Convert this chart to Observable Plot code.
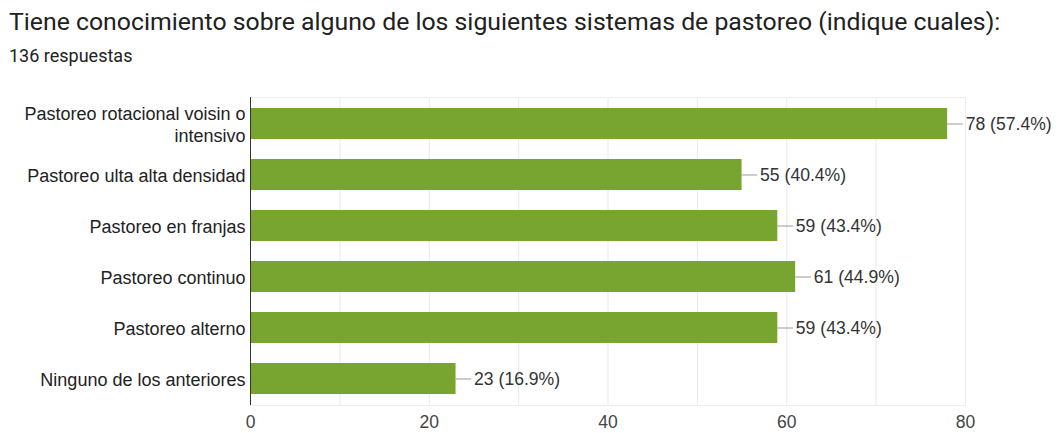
<!DOCTYPE html>
<html><head><meta charset="utf-8">
<script src="https://cdn.jsdelivr.net/npm/d3@7"></script>
<script src="https://cdn.jsdelivr.net/npm/@observablehq/plot@0.6"></script>
<style>
body{margin:0;background:#fff;font-family:Roboto,"Liberation Sans",Arial,sans-serif;}
#head{height:80px;position:relative;}
#title{position:absolute;left:9px;top:7px;font-size:24.8px;line-height:30px;color:#212121;white-space:nowrap;}
#sub{position:absolute;left:9px;top:45px;font-size:18px;line-height:22px;color:#212121;}
</style></head>
<body>
<div id="head"><div id="title">Tiene conocimiento sobre alguno de los siguientes sistemas de pastoreo (indique cuales):</div><div id="sub">136 respuestas</div></div>
<div id="chart"></div>
<script>
const categories = ["Pastoreo rotacional voisin o\nintensivo","Pastoreo ulta alta densidad","Pastoreo en franjas","Pastoreo continuo","Pastoreo alterno","Ninguno de los anteriores"];
const counts = [78,55,59,61,59,23];
const percents = ["57.4%","40.4%","43.4%","44.9%","43.4%","16.9%"];
const xTicks = [0,20,40,60,80];

const data = categories.map((c,i)=>({label:c,value:counts[i],pct:percents[i]}));
const leader = 1.75;
const font = '"Liberation Sans",Arial,sans-serif';

const chart = Plot.plot({
  width:1059, height:353,
  marginLeft:250, marginRight:94, marginTop:17, marginBottom:28,
  style:{fontFamily:font, fontSize:"18px", color:"#333"},
  x:{domain:[0,80], ticks:xTicks, label:null, tickSize:0, tickPadding:10},
  y:{domain:categories, label:null, tickSize:0, tickPadding:5, paddingInner:0.39, paddingOuter:0.2},
  marks:[
    Plot.gridX(d3.range(0,81,10),{stroke:"#e8e8e8", strokeOpacity:1}),
    Plot.frame({stroke:"#eeeeee"}),
    Plot.barX(data,{y:"label", x:"value", fill:"#77a52f"}),
    Plot.ruleY(data,{y:"label", x1:"value", x2:d=>d.value+leader, stroke:"#999"}),
    Plot.text(data,{y:"label", x:"value", text:d=>`${d.value} (${d.pct})`, dx:18, textAnchor:"start", fill:"#333", fontSize:17.6, fontFamily:font}),
    Plot.ruleX([0],{stroke:"#333"}),
    Plot.axisX({ticks:xTicks, tickSize:0, tickPadding:10, fontSize:17.5, fill:"#444", label:null, fontFamily:font}),
    Plot.axisY({tickSize:0, tickPadding:5, fontSize:18, fill:"#222", label:null, lineHeight:1.25, fontFamily:font})
  ]
});
document.getElementById("chart").appendChild(chart);
</script>
</body></html>
